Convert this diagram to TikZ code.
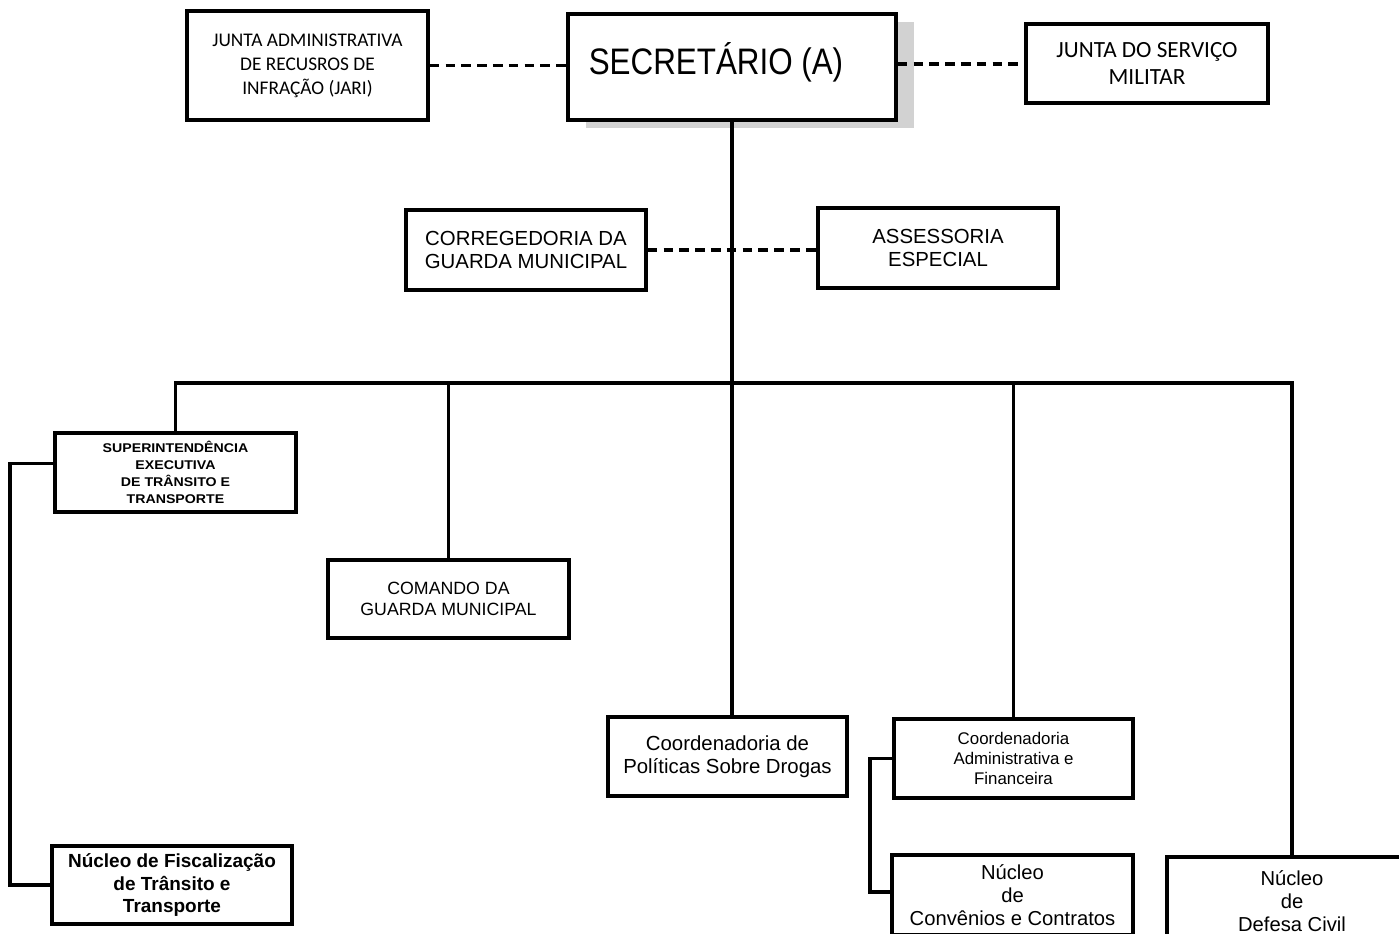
\documentclass[tikz,border=0pt]{standalone}
\usepackage{fontspec}
\setmainfont{Liberation Sans}
\newfontfamily\calibri{Carlito}
\newfontfamily\largafont[FakeStretch=1.12]{Liberation Sans}
\newfontfamily\estreitafont[FakeStretch=0.85]{Liberation Sans}
\usepackage{tikz}
\usetikzlibrary{calc, shadows}

\begin{document}
\begin{tikzpicture}[x=0.02cm, y=-0.02cm,
		caixa/.style={draw, line width=2pt, fill=white, align=center, inner sep=0pt},
		linha/.style={line width=2.2pt},
		tracejado/.style={line width=2pt, dash pattern=on 5.5pt off 3.5pt}]
		\useasboundingbox (0,0) rectangle (1399,933);
		\clip (0,0) rectangle (1399,933);
		% topo
		\node[caixa, minimum width=6.56cm, minimum height=2.12cm,
			drop shadow={shadow xshift=0.36cm, shadow yshift=-0.16cm, fill=gray!35, opacity=1}] (sec) at (732,67) {};
		\node[font=\estreitafont\fontsize{21}{24}\selectfont] (secTxt) at (716,62) {SECRETÁRIO (A)};
		\node[caixa, minimum width=4.82cm, minimum height=2.18cm, font=\calibri\fontsize{11}{13.6}\selectfont] (jari) at (307.5,65.5) {JUNTA ADMINISTRATIVA\\DE RECUSROS DE\\INFRAÇÃO (JARI)};
		\node[caixa, minimum width=4.84cm, minimum height=1.58cm, font=\calibri\fontsize{13.2}{15.9}\selectfont] (jsm) at (1147,63.5) {JUNTA DO SERVIÇO\\MILITAR};
		\draw[tracejado] (jari.east) -- (jari.east -| sec.west);
		\draw[tracejado] ([yshift=0.06cm]sec.east) -- ([yshift=0.06cm]sec.east -| jsm.west);
		% assessorias
		\node[caixa, minimum width=4.8cm, minimum height=1.6cm, font=\fontsize{11.6}{13.2}\selectfont] (cor) at (526,250) {CORREGEDORIA DA\\GUARDA MUNICIPAL};
		\node[caixa, minimum width=4.8cm, minimum height=1.6cm, font=\fontsize{11.6}{13.2}\selectfont] (ass) at (938,248) {ASSESSORIA\\ESPECIAL};
		\coordinate (barra) at (732,383);
		\draw[linha] (sec.south) -- (barra);
		\draw[tracejado] (cor.east) -- (cor.east -| ass.west);
		% segundo nivel
		\node[caixa, minimum width=4.82cm, minimum height=1.58cm, font=\largafont\bfseries\fontsize{7.2}{9.6}\selectfont] (sup) at (175.5,472.5) {SUPERINTENDÊNCIA\\EXECUTIVA\\DE TRÂNSITO E\\TRANSPORTE};
		\node[caixa, minimum width=4.82cm, minimum height=1.56cm, font=\fontsize{10.1}{11.6}\selectfont] (com) at (448.5,599) {COMANDO DA\\GUARDA MUNICIPAL};
		\node[caixa, minimum width=4.78cm, minimum height=1.58cm, font=\fontsize{11.6}{13.4}\selectfont] (dro) at (727.5,756.5) {Coordenadoria de\\Políticas Sobre Drogas};
		\node[caixa, minimum width=4.78cm, minimum height=1.58cm, font=\fontsize{9.6}{11.3}\selectfont] (adm) at (1013.5,758.5) {Coordenadoria\\Administrativa e\\Financeira};
		\node[caixa, minimum width=5cm, minimum height=1.76cm, font=\fontsize{11.5}{13}\selectfont] (def) at (1292,901) {Núcleo\\de\\Defesa Civil};
		\draw[linha] (sup.north) |- (barra) -| (def.north);
		\draw[linha] (com.north) -- (com.north |- barra);
		\draw[linha] (barra) -- (barra |- dro.north);
		\draw[linha] (adm.north) -- (adm.north |- barra);
		% nucleos
		\node[caixa, minimum width=4.8cm, minimum height=1.56cm, font=\bfseries\fontsize{10.8}{13}\selectfont] (fis) at (172,885) {Núcleo de Fiscalização\\de Trânsito e\\Transporte};
		\node[caixa, minimum width=4.82cm, minimum height=1.6cm, font=\fontsize{11.5}{13}\selectfont] (con) at (1012.5,895) {Núcleo\\de\\Convênios e Contratos};
		\draw[linha] ([yshift=0.18cm]sup.west) -- ++(-43,0) |- (fis.west);
		\draw[linha] (adm.west) -- ++(-22,0) |- ([yshift=0.06cm]con.west);
	\end{tikzpicture}
\end{document}
